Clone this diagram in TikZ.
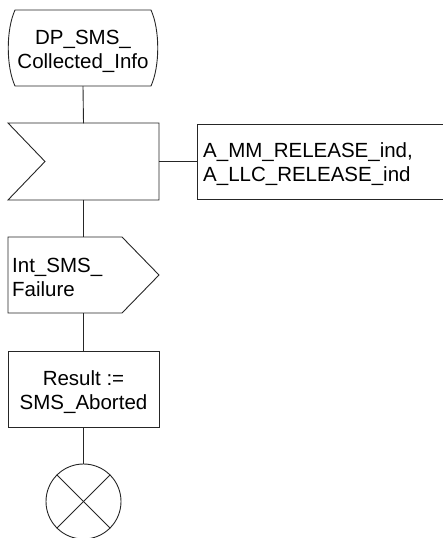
\documentclass[tikz,border=0pt]{standalone}
\usepackage{fontspec}
\setmainfont{Liberation Sans}
\begin{document}
\begin{tikzpicture}[x=1bp,y=-1bp,
  shapeline/.style={draw=black!85,line width=0.9bp},
  lbl/.style={inner sep=0pt,font=\fontsize{20.5bp}{24bp}\selectfont},
  anchorbox/.style={inner sep=0pt,minimum width=151bp,minimum height=76bp}]
\useasboundingbox (0,0) rectangle (443,538);
% state
\node[anchorbox] (state) at (83,48) {};
\draw[shapeline] (15,10) -- (151,10) .. controls (160,30) and (160,66) .. (151,86)
  -- (15,86) .. controls (6,66) and (6,30) .. (15,10) -- cycle;
\node[lbl,align=center] (statetxt) at (83,51) {DP\_SMS\_\\Collected\_Info};
% input
\node[anchorbox] (input) at (83.5,161.5) {};
\draw[shapeline] (8,123) -- (159,123) -- (159,200) -- (8,200) -- (45,161.5) -- cycle;
% comment
\coordinate (cmtleft) at (197,161.5);
\draw[shapeline] (443,124) -- (197,124) -- (197,199) -- (443,199);
\node[lbl,align=left,anchor=west] (cmt) at (203,164) {A\_MM\_RELEASE\_ind,\\A\_LLC\_RELEASE\_ind};
% output
\node[anchorbox] (output) at (83.5,275) {};
\draw[shapeline] (8,237) -- (122,237) -- (159,275) -- (122,313) -- (8,313) -- cycle;
\node[lbl,align=left,anchor=west] (outtxt) at (12,277) {Int\_SMS\_\\Failure};
% task
\node[anchorbox,shapeline] (task) at (83.5,389) {};
\node[lbl,align=center] (tasktxt) at (83.5,392) {Result :=\\SMS\_Aborted};
% stop
\node[circle,shapeline,inner sep=0pt,minimum size=75bp] (stop) at (83.5,501.5) {};
\draw[shapeline] (stop.north west) -- (stop.south east);
\draw[shapeline] (stop.north east) -- (stop.south west);
% connectors
\draw[shapeline] (state.south) -- (input.north);
\draw[shapeline] (input.east) -- (cmtleft);
\draw[shapeline] (input.south) -- (output.north);
\draw[shapeline] (output.south) -- (task.north);
\draw[shapeline] (task.south) -- (stop.north);
\end{tikzpicture}
\end{document}
